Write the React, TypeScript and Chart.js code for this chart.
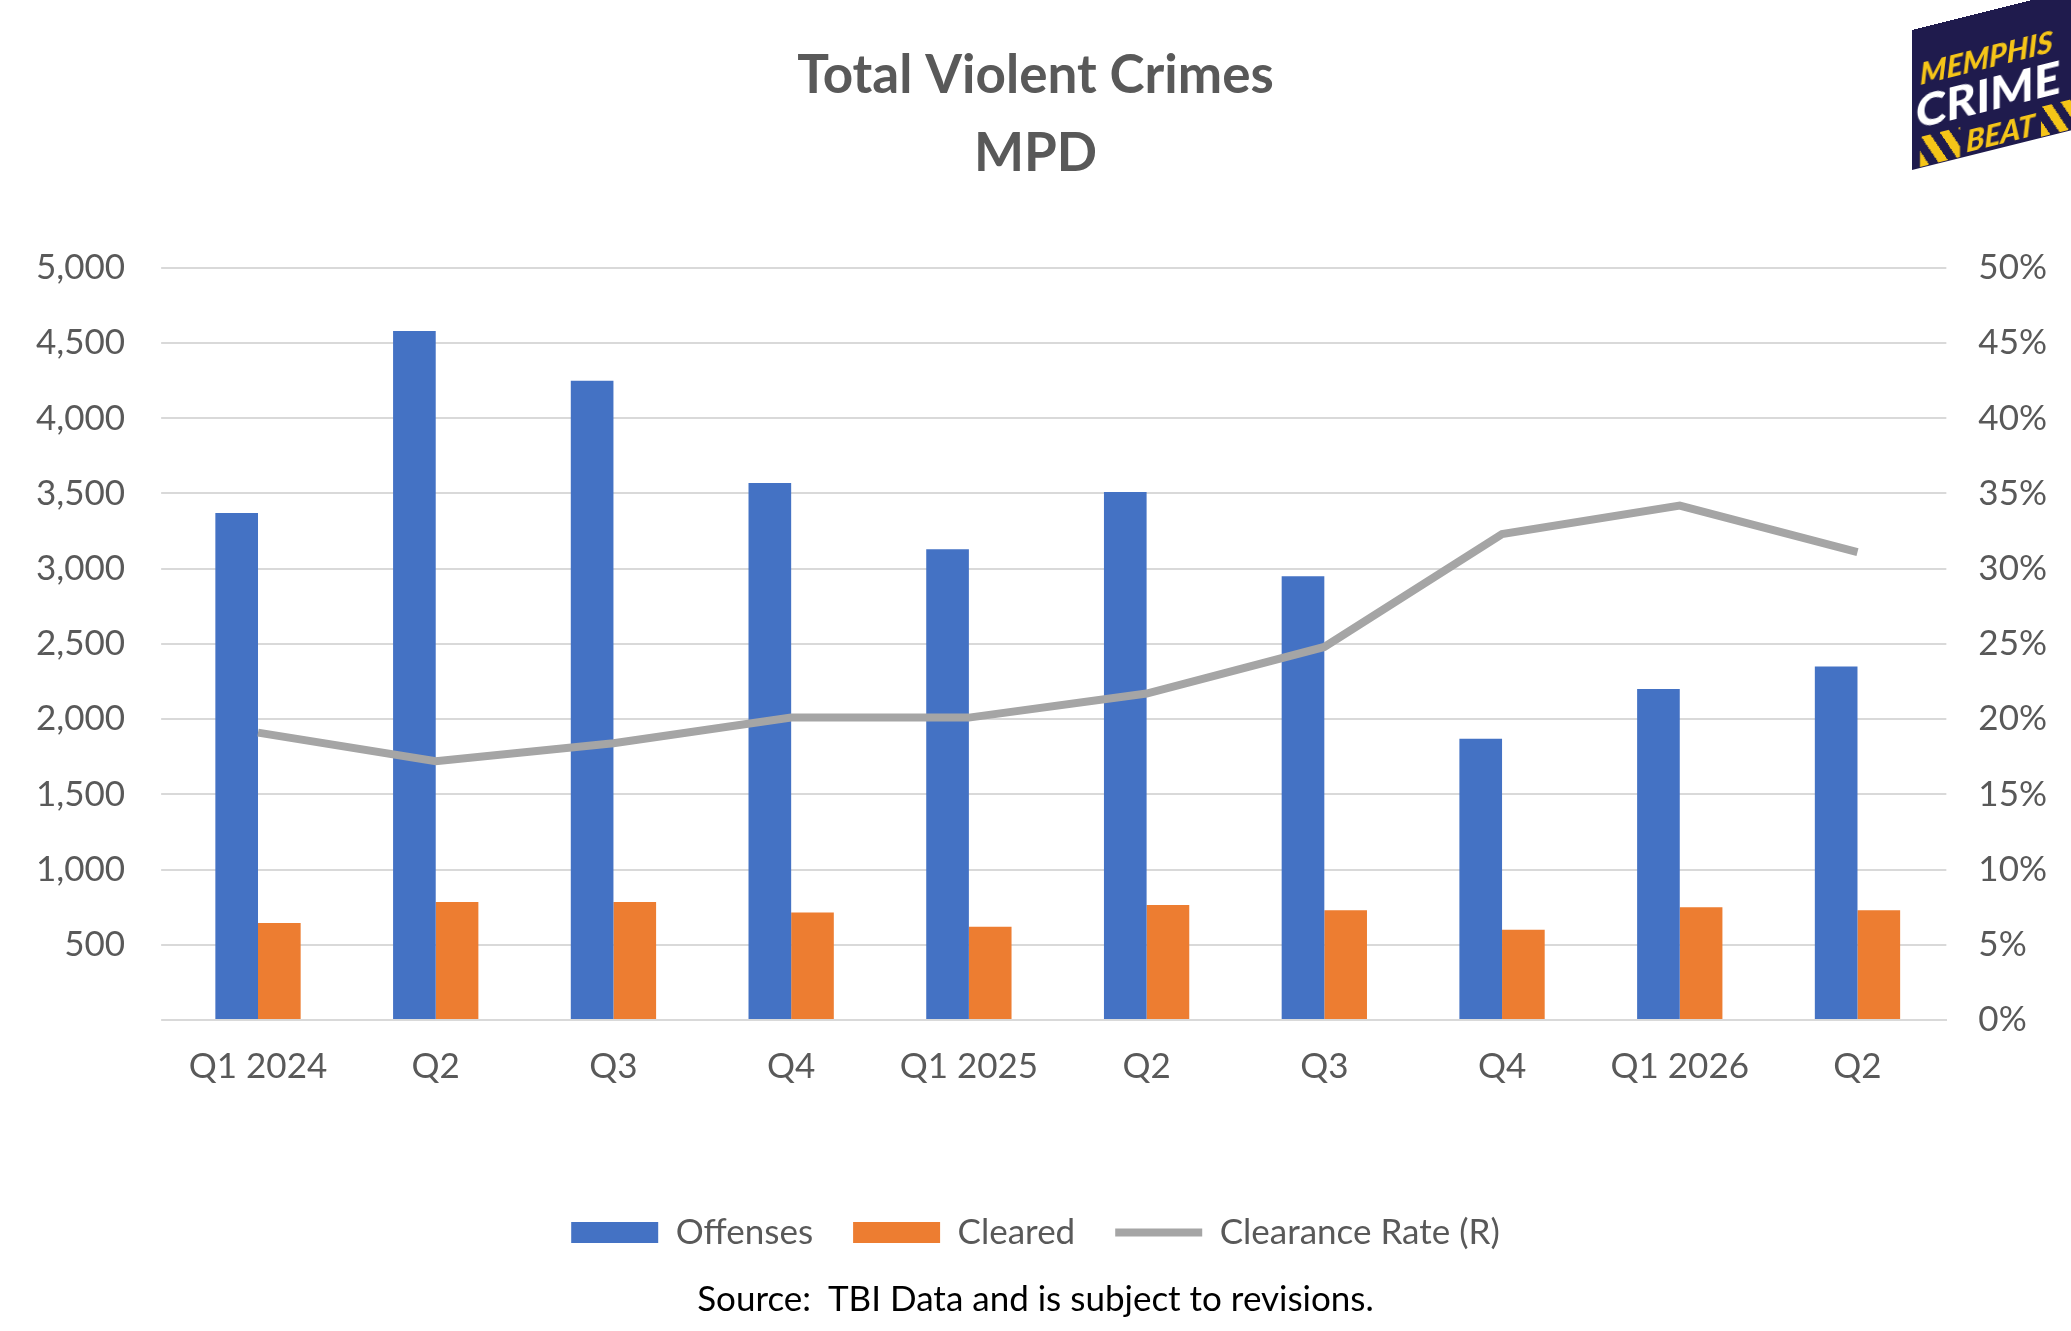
import React, { useEffect, useRef } from "react";
import { Chart, registerables } from "chart.js";
Chart.register(...registerables);

const categories = ["Q1 2024", "Q2", "Q3", "Q4", "Q1 2025", "Q2", "Q3", "Q4", "Q1 2026", "Q2"];
const offenses = [3370, 4580, 4250, 3570, 3130, 3510, 2950, 1870, 2200, 2350];
const cleared = [645, 785, 785, 715, 620, 765, 730, 600, 750, 730];
const clearanceRate = [19.1, 17.2, 18.4, 20.1, 20.1, 21.7, 24.8, 32.3, 34.2, 31.1];

const FONT = "Lato, 'Open Sans', sans-serif";

export default function App() {
  const ref = useRef<HTMLCanvasElement>(null);
  useEffect(() => {
    const chart = new Chart(ref.current!, {
      type: "bar",
      data: {
        labels: categories,
        datasets: [
          { label: "Offenses", data: offenses, backgroundColor: "#4472C4", yAxisID: "y", order: 2, pointStyle: "rect", categoryPercentage: 0.48, barPercentage: 1 } as any,
          { label: "Cleared", data: cleared, backgroundColor: "#ED7D31", yAxisID: "y", order: 2, pointStyle: "rect", categoryPercentage: 0.48, barPercentage: 1 } as any,
          { type: "line", label: "Clearance Rate (R)", data: clearanceRate, borderColor: "#A5A5A5", backgroundColor: "#A5A5A5", borderWidth: 8, pointRadius: 0, pointStyle: "line", yAxisID: "y1", order: 1 } as any,
        ],
      },
      options: {
        animation: false,
        responsive: true,
        maintainAspectRatio: false,
        layout: { padding: { left: 0, right: 0, top: 27, bottom: 71 } },
        plugins: {
          title: {
            display: true,
            text: ["Total Violent Crimes", "MPD"],
            color: "#595959",
            font: { family: FONT, size: 53, weight: "bold", lineHeight: 1.47 },
            padding: { top: 10, bottom: 75 },
          },
          legend: {
            position: "bottom",
            labels: {
              usePointStyle: true,
              pointStyleWidth: 87,
              boxHeight: 21,
              color: "#595959",
              font: { family: FONT, size: 35 },
              padding: 40,
              sort: (a: any, b: any) => a.datasetIndex - b.datasetIndex,
            },
          },
          tooltip: { enabled: false },
        },
        scales: {
          x: {
            grid: { display: false },
            border: { color: "#D9D9D9", width: 2 },
            ticks: { color: "#595959", font: { family: FONT, size: 35 }, padding: 18 },
            afterFit: (s: any) => { s.height += 69; },
          },
          y: {
            min: 0, max: 5000,
            ticks: { stepSize: 500, color: "#595959", font: { family: FONT, size: 35 }, padding: 36,
              callback: (v: any) => (v === 0 ? "" : Number(v).toLocaleString("en-US")) },
            grid: { color: "#D9D9D9", lineWidth: 2 },
            border: { display: false },
          },
          y1: {
            position: "right",
            min: 0, max: 50,
            ticks: { stepSize: 5, color: "#595959", font: { family: FONT, size: 35 }, padding: 24, callback: (v: any) => v + "%" },
            grid: { display: false },
            border: { display: false },
          },
        },
      },
    });
    return () => chart.destroy();
  }, []);
  return (
    <div style={{ position: "absolute", left: 0, top: 0, width: 2071, height: 1331, background: "#fff", fontFamily: FONT }}>
      <canvas ref={ref} />
      <div style={{ position: "absolute", left: 0, width: 2071, top: 1276, textAlign: "center", fontSize: 35, color: "#000" }}>
        Source:&nbsp; TBI Data and is subject to revisions.
      </div>
      <div style={{ position: "absolute", left: 1912, top: 30, width: 170, height: 140, background: "#1f1b4d", transform: "skewY(-14deg)", transformOrigin: "left top", overflow: "hidden" }}>
        <div style={{ color: "#f5c518", fontWeight: 900, fontSize: 30, fontStyle: "italic", marginLeft: 8, marginTop: 30, lineHeight: 1 }}>MEMPHIS</div>
        <div style={{ color: "#fff", fontWeight: 900, fontSize: 46, marginLeft: 4, lineHeight: 1 }}>CRIME</div>
        <div style={{ display: "flex", alignItems: "center", marginLeft: 8 }}>
          <div style={{ width: 40, height: 30, background: "repeating-linear-gradient(60deg,#f5c518 0 8px,#1f1b4d 8px 16px)" }} />
          <div style={{ color: "#f5c518", fontWeight: 900, fontStyle: "italic", fontSize: 30, marginLeft: 6 }}>BEAT</div>
          <div style={{ width: 40, height: 30, marginLeft: 6, background: "repeating-linear-gradient(60deg,#f5c518 0 8px,#1f1b4d 8px 16px)" }} />
        </div>
      </div>
    </div>
  );
}
